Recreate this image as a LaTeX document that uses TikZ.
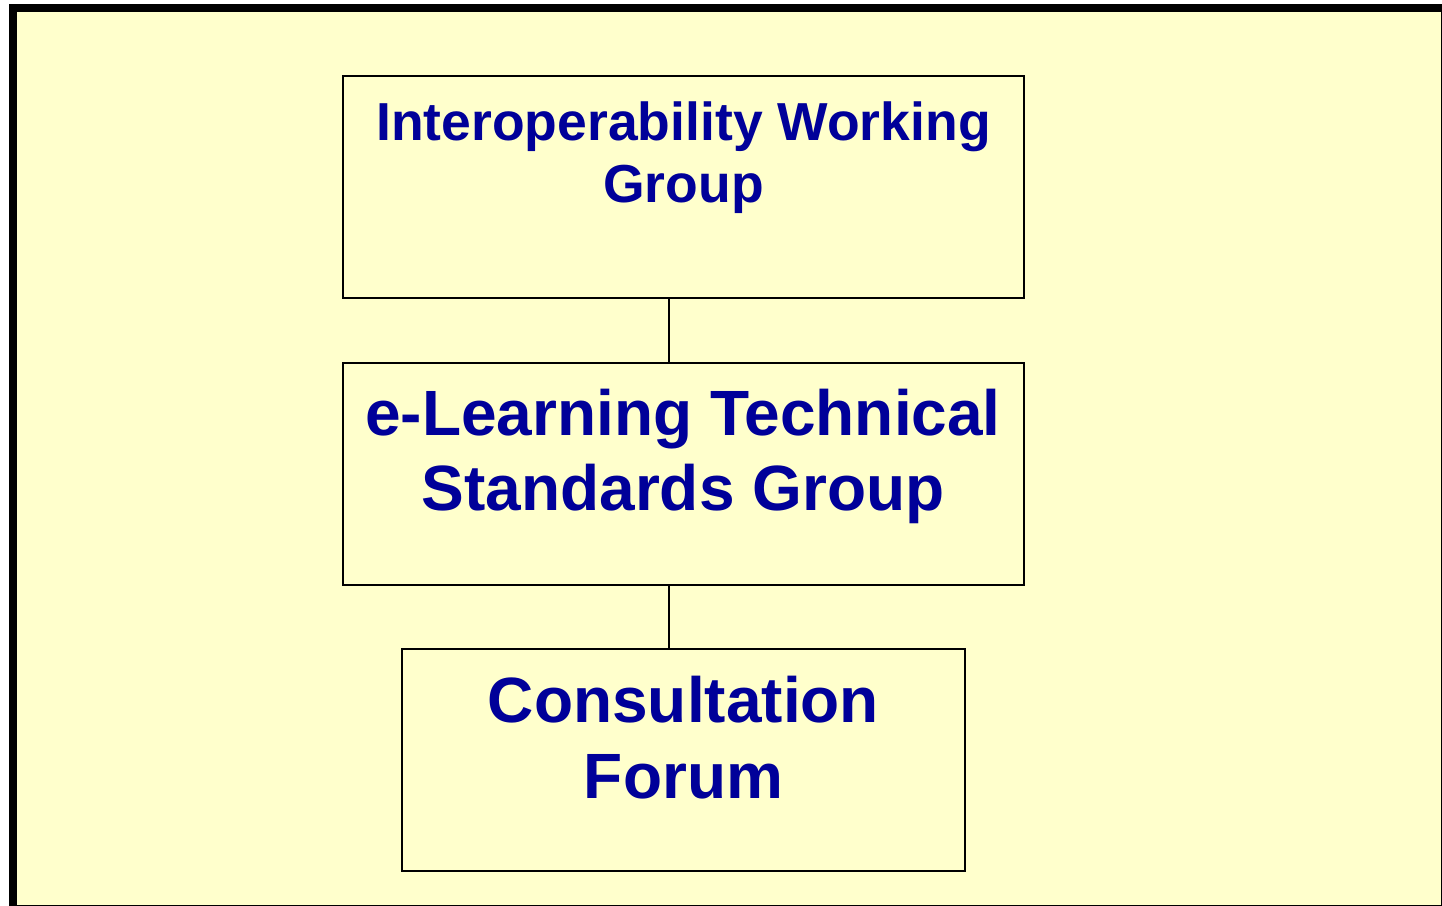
\documentclass[tikz,border=0pt]{standalone}
\usepackage{fontspec}
\setmainfont{Liberation Sans}
\definecolor{paper}{HTML}{FFFFCC}
\definecolor{ink}{HTML}{000099}
\begin{document}
\begin{tikzpicture}[x=1pt,y=-1pt,
  orgbox/.style={draw=black,line width=1.8pt,fill=paper,inner sep=0pt},
  smalltxt/.style={text=ink,font=\fontsize{53.5}{62}\selectfont\bfseries,anchor=base,inner sep=0pt},
  bigtxt/.style={text=ink,font=\fontsize{64}{76}\selectfont\bfseries,anchor=base,inner sep=0pt},
  link/.style={draw=black,line width=1.8pt}]
\useasboundingbox (0,0) rectangle (1442,905);
\draw[line width=8pt,fill=paper] (13,8) rectangle (1445,909);
\node[orgbox,minimum width=681pt,minimum height=222pt] (b1) at (683.5,187) {};
\node[orgbox,minimum width=681pt,minimum height=222pt] (b2) at (683.5,474) {};
\node[orgbox,minimum width=563pt,minimum height=222pt] (b3) at (683.5,760) {};
\coordinate (cx) at (669,0);
\draw[link] (b1.south -| cx) -- (b2.north -| cx);
\draw[link] (b2.south -| cx) -- (b3.north -| cx);
\node[smalltxt] (t1a) at (683.5,140) {Interoperability Working};
\node[smalltxt] (t1b) at (683.5,202) {Group};
\node[bigtxt] (t2a) at (683,435) {e-Learning Technical};
\node[bigtxt] (t2b) at (683,510) {Standards Group};
\node[bigtxt] (t3a) at (683.5,722) {Consultation};
\node[bigtxt] (t3b) at (683.5,798) {Forum};
\end{tikzpicture}
\end{document}
